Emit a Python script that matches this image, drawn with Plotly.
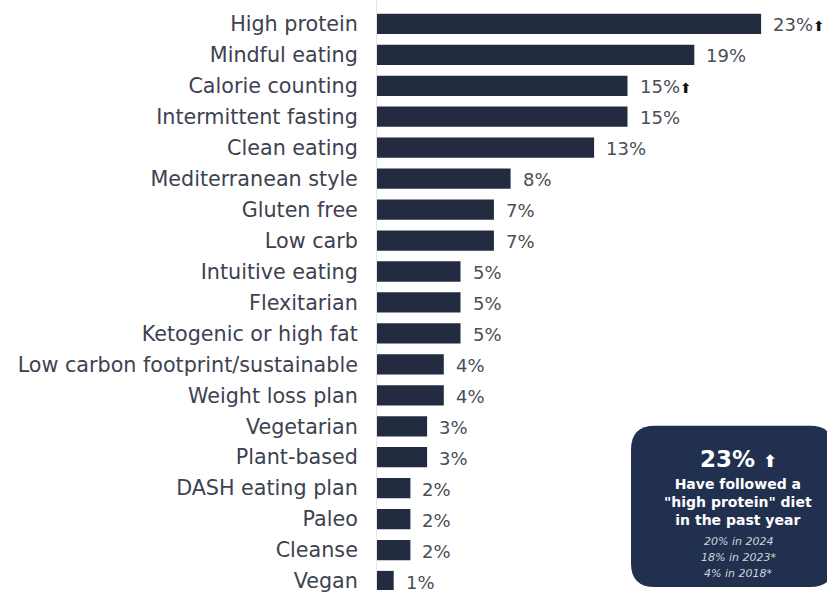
import plotly.graph_objects as go

# Diet types followed in the past year (share of respondents, %)
diets = [
    "High protein", "Mindful eating", "Calorie counting", "Intermittent fasting",
    "Clean eating", "Mediterranean style", "Gluten free", "Low carb",
    "Intuitive eating", "Flexitarian", "Ketogenic or high fat",
    "Low carbon footprint/sustainable", "Weight loss plan", "Vegetarian",
    "Plant-based", "DASH eating plan", "Paleo", "Cleanse", "Vegan",
]
shares = [23, 19, 15, 15, 13, 8, 7, 7, 5, 5, 5, 4, 4, 3, 3, 2, 2, 2, 1]
trend_up = ["High protein", "Calorie counting"]

callout_value = "23%"
callout_lines = ["Have followed a", "\"high protein\" diet", "in the past year"]
history_lines = ["20% in 2024", "18% in 2023*", "4% in 2018*"]

W, H = 827, 593
ML = 377            # left margin holding the category labels
PLOT_W = W - ML
PX_PER_PCT = 16.7
ROW_PX = 31.11
FIRST_ROW_PX = 24

BAR = "#222b40"
BOX = "#22304f"
LABEL = "#3d4250"
VALUE = "#4a4d57"
FONT = "DejaVu Sans"

ypos = list(range(len(diets)))

fig = go.Figure(go.Bar(
    x=shares, y=ypos, orientation="h",
    marker=dict(color=BAR, line=dict(width=0)),
    width=0.655, hoverinfo="skip",
))

# value labels beside each bar
annotations = []
for i, (d, v) in enumerate(zip(diets, shares)):
    txt = f"{v}%"
    if d in trend_up:
        txt += "<span style='font-size:14px;color:#111111'>⬆</span>"
    annotations.append(dict(
        x=v, y=i, xref="x", yref="y", text=txt, showarrow=False,
        xanchor="left", yanchor="middle", xshift=10, yshift=-1,
        font=dict(family=FONT, size=18, color=VALUE),
    ))


def px_x(px):
    return (px - ML) / PLOT_W


def px_y(py):
    return (H - py) / H


# rounded callout box
x0, x1, y0, y1, r = 631, 834, 428, 590, 24
rx, ry = r / PLOT_W, r / H
X0, X1, Y0, Y1 = px_x(x0), px_x(x1), px_y(y0), px_y(y1)
path = (
    f"M {X0 + rx},{Y0} L {X1 - rx},{Y0} Q {X1},{Y0} {X1},{Y0 - ry} "
    f"L {X1},{Y1 + ry} Q {X1},{Y1} {X1 - rx},{Y1} "
    f"L {X0 + rx},{Y1} Q {X0},{Y1} {X0},{Y1 + ry} "
    f"L {X0},{Y0 - ry} Q {X0},{Y0} {X0 + rx},{Y0} Z"
)
shapes = [dict(type="path", path=path, xref="paper", yref="paper",
               fillcolor=BOX, line=dict(width=0), layer="above")]

cx = px_x(738)
annotations.append(dict(
    x=cx, y=px_y(461), xref="paper", yref="paper", showarrow=False,
    text=f"<b>{callout_value} <span style='font-size:17px'>⬆</span></b>",
    font=dict(family=FONT, size=23, color="white"), xanchor="center", yanchor="middle",
))
annotations.append(dict(
    x=cx, y=px_y(505), xref="paper", yref="paper", showarrow=False,
    text="<br>".join(f"<b>{line}</b>" for line in callout_lines),
    font=dict(family=FONT, size=14, color="white"),
    xanchor="center", yanchor="middle", align="center",
))
for k, line in enumerate(history_lines):
    annotations.append(dict(
        x=cx, y=px_y(544 + 16 * k), xref="paper", yref="paper", showarrow=False,
        text=f"<i>{line}</i>", font=dict(family=FONT, size=11, color="#d0d4de"),
        xanchor="center", yanchor="middle",
    ))

y_top = -FIRST_ROW_PX / ROW_PX
y_bot = (H - FIRST_ROW_PX) / ROW_PX

fig.update_layout(
    width=W, height=H,
    margin=dict(l=ML, r=0, t=0, b=0),
    paper_bgcolor="white", plot_bgcolor="white",
    showlegend=False,
    xaxis=dict(range=[0, PLOT_W / PX_PER_PCT], visible=False, fixedrange=True),
    yaxis=dict(
        range=[y_bot, y_top], tickmode="array", tickvals=ypos, ticktext=diets,
        showgrid=False, zeroline=False, showline=True, linecolor="#e6e6e8",
        linewidth=1, ticks="", ticklabelstandoff=14, ticklabeloverflow="allow",
        tickfont=dict(family=FONT, size=20.7, color=LABEL), fixedrange=True,
    ),
    annotations=annotations, shapes=shapes,
)

fig.write_html("out.html")
